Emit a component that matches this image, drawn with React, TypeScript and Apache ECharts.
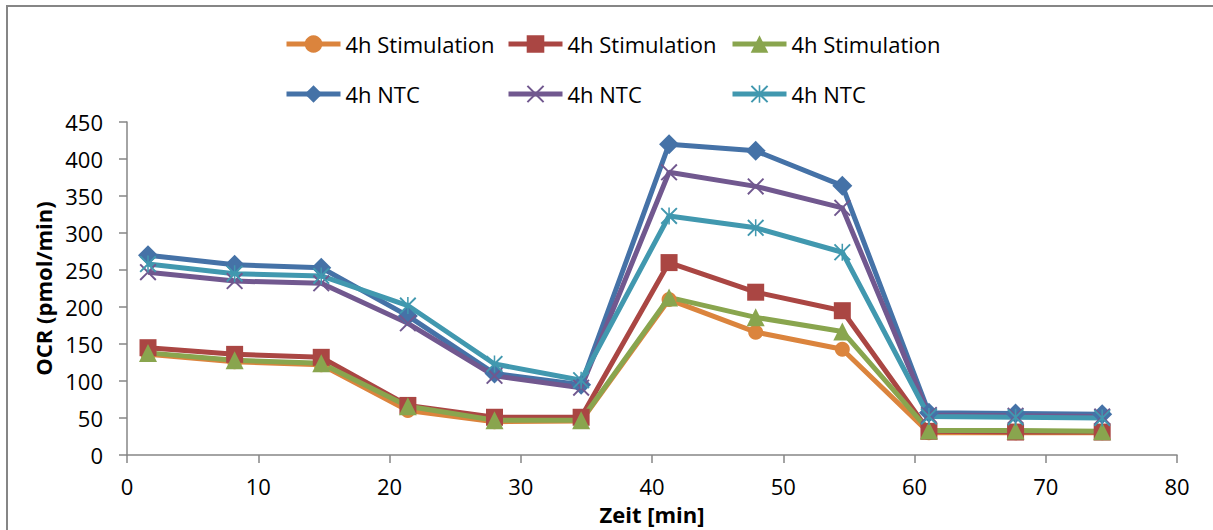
import React, { useEffect, useRef } from "react";
import * as echarts from "echarts";

const times = [1.6, 8.2, 14.8, 21.4, 28.0, 34.6, 41.3, 47.9, 54.5, 61.1, 67.7, 74.3];

const stimOrange = [136, 126, 122, 60, 45, 46, 210, 166, 143, 30, 30, 30];
const stimRed = [145, 136, 132, 67, 51, 51, 260, 220, 195, 32, 31, 31];
const stimGreen = [138, 128, 124, 66, 47, 47, 213, 186, 167, 33, 33, 32];
const ntcBlue = [270, 257, 253, 188, 110, 95, 420, 411, 364, 57, 56, 55];
const ntcPurple = [247, 235, 232, 178, 107, 91, 382, 363, 334, 54, 53, 52];
const ntcTeal = [258, 245, 242, 202, 123, 101, 323, 307, 274, 52, 51, 50];

const xTicks = [0, 10, 20, 30, 40, 50, 60, 70, 80];
const yTicks = [0, 50, 100, 150, 200, 250, 300, 350, 400, 450];

const LABEL_STIM = "4h Stimulation";
const LABEL_NTC = "4h NTC";

const X_PATH =
  "path://M0,1.6 L1.6,0 L10,8.4 L18.4,0 L20,1.6 L11.6,10 L20,18.4 L18.4,20 L10,11.6 L1.6,20 L0,18.4 L8.4,10 Z";
const STAR_PATH =
  "path://M0,1.6 L1.6,0 L10,8.4 L18.4,0 L20,1.6 L11.6,10 L20,18.4 L18.4,20 L10,11.6 L1.6,20 L0,18.4 L8.4,10 Z M9.1,0 L10.9,0 L10.9,20 L9.1,20 Z";

const FONT = "'Open Sans', sans-serif";

export default function App() {
  const ref = useRef<HTMLDivElement>(null);

  useEffect(() => {
    if (!ref.current) return;
    const chart = echarts.init(ref.current, undefined, { renderer: "svg" });

    const defs = [
      { id: "s1", label: LABEL_STIM, data: stimOrange, color: "#DB843D", symbol: "circle", size: 15 },
      { id: "s2", label: LABEL_STIM, data: stimRed, color: "#AA4643", symbol: "rect", size: 17 },
      { id: "s3", label: LABEL_STIM, data: stimGreen, color: "#89A54E", symbol: "triangle", size: 18 },
      { id: "n1", label: LABEL_NTC, data: ntcBlue, color: "#4572A7", symbol: "diamond", size: 20 },
      { id: "n2", label: LABEL_NTC, data: ntcPurple, color: "#71588F", symbol: X_PATH, size: 17 },
      { id: "n3", label: LABEL_NTC, data: ntcTeal, color: "#4198AF", symbol: STAR_PATH, size: 17 },
    ];

    const legendPos = [
      { left: 284, top: 33 },
      { left: 506, top: 33 },
      { left: 730, top: 33 },
      { left: 284, top: 83 },
      { left: 506, top: 83 },
      { left: 730, top: 83 },
    ];

    const labelMap: Record<string, string> = {};
    defs.forEach((d) => (labelMap[d.id] = d.label));

    const legends = defs.map((d, i) => ({
      show: true,
      data: [d.id],
      left: legendPos[i].left,
      top: legendPos[i].top,
      padding: 0,
      itemGap: 0,
      itemWidth: 54,
      itemHeight: 22,
      selectedMode: false,
      lineStyle: { width: 5 },
      formatter: (name: string) => labelMap[name],
      textStyle: { fontFamily: FONT, fontSize: 22, color: "#000", padding: [0, 0, 0, 0] },
    }));

    const series = defs.map((d) => ({
      name: d.id,
      type: "line",
      data: times.map((t, i) => [t, d.data[i]]),
      symbol: d.symbol,
      symbolSize: d.size,
      showAllSymbol: true,
      lineStyle: { color: d.color, width: 5 },
      itemStyle: { color: d.color },
      emphasis: { disabled: true },
    }));

    const axisLineStyle = { color: "#868686", width: 1.5 };

    chart.setOption({
      animation: false,
      backgroundColor: "#fff",
      graphic: [
        {
          type: "rect",
          shape: { x: 7, y: 6, width: 1400, height: 700 },
          style: { fill: "none", stroke: "#868686", lineWidth: 2 },
          silent: true,
        },
      ],
      legend: legends,
      grid: { left: 127, right: 36, top: 122, bottom: 73, containLabel: false },
      xAxis: {
        type: "value",
        min: xTicks[0],
        max: xTicks[xTicks.length - 1],
        interval: 10,
        name: "Zeit [min]",
        nameLocation: "middle",
        nameGap: 48,
        nameTextStyle: { fontFamily: FONT, fontSize: 22, fontWeight: "bold", color: "#000" },
        axisLine: { show: true, lineStyle: axisLineStyle },
        axisTick: { show: true, inside: false, length: 8, lineStyle: axisLineStyle },
        axisLabel: { fontFamily: FONT, fontSize: 22, color: "#000", margin: 20 },
        splitLine: { show: false },
      },
      yAxis: {
        type: "value",
        min: yTicks[0],
        max: yTicks[yTicks.length - 1],
        interval: 50,
        name: "OCR (pmol/min)",
        nameLocation: "middle",
        nameGap: 70,
        nameRotate: 90,
        nameTextStyle: { fontFamily: FONT, fontSize: 22, fontWeight: "bold", color: "#000" },
        axisLine: { show: true, lineStyle: axisLineStyle },
        axisTick: { show: true, inside: false, length: 8, lineStyle: axisLineStyle },
        axisLabel: { fontFamily: FONT, fontSize: 22, color: "#000", margin: 24 },
        splitLine: { show: false },
      },
      series,
    });

    return () => chart.dispose();
  }, []);

  return (
    <div
      ref={ref}
      style={{ position: "absolute", left: 0, top: 0, width: 1213, height: 530 }}
    />
  );
}
